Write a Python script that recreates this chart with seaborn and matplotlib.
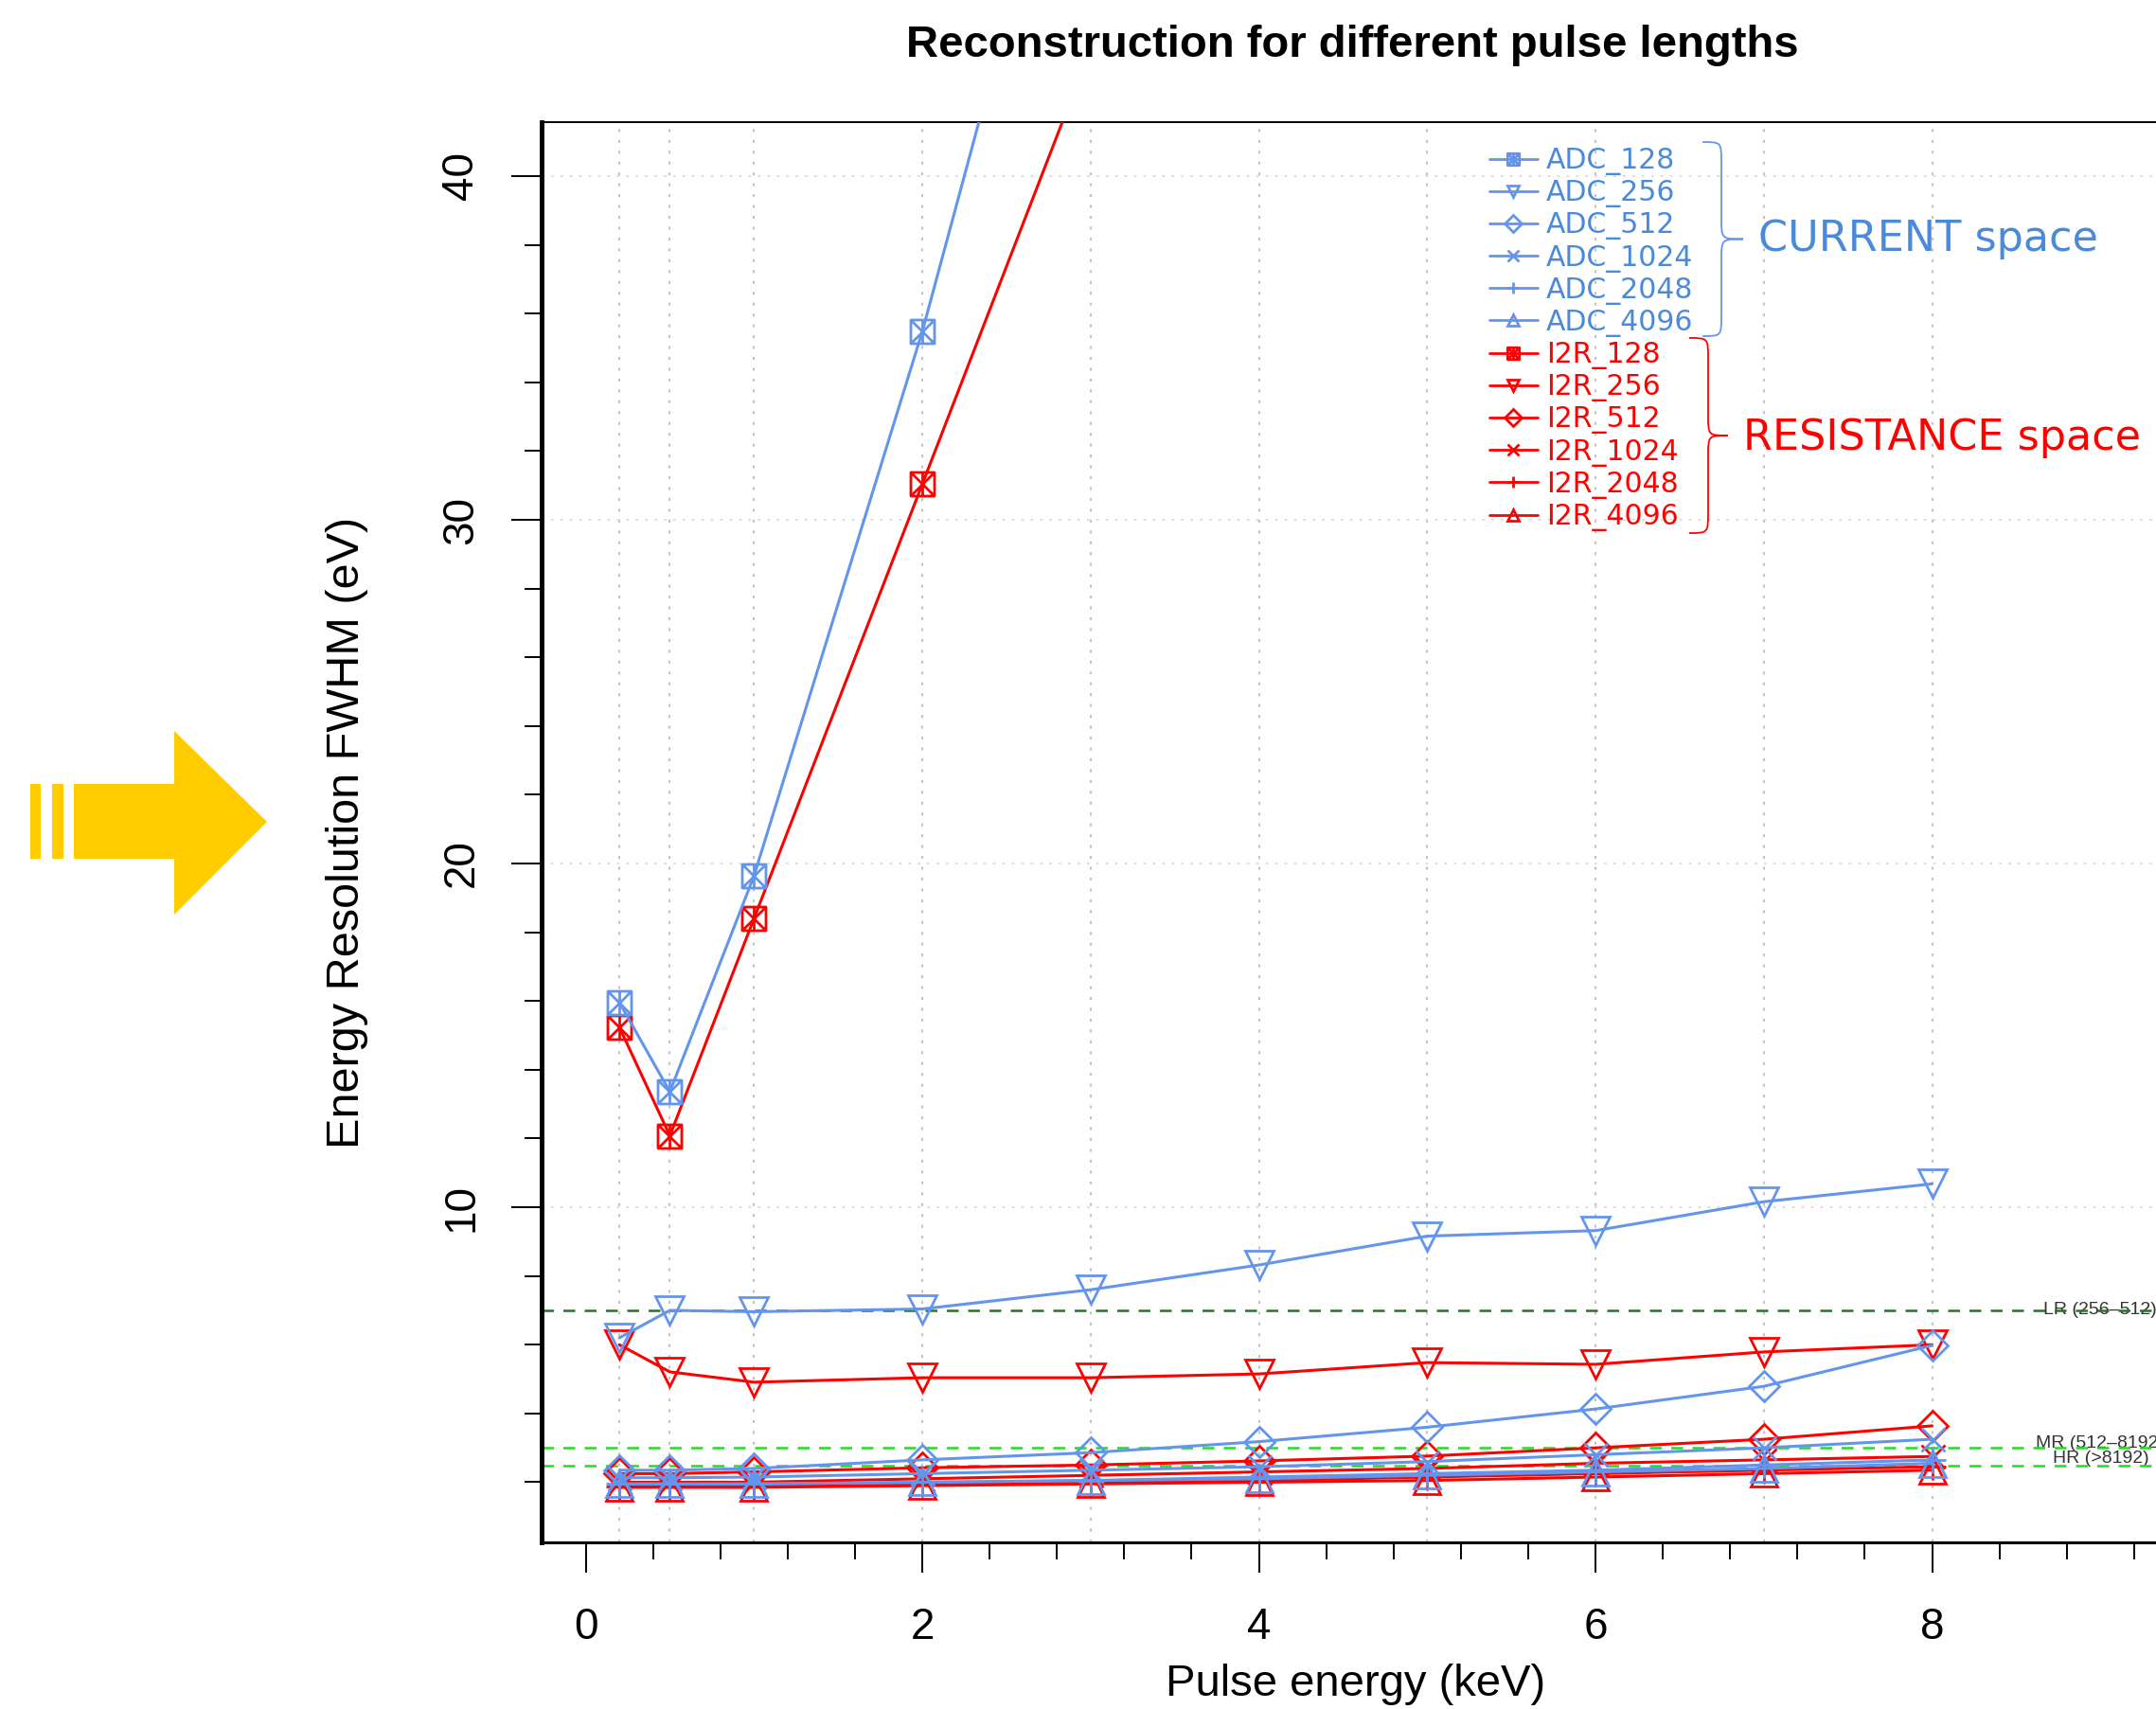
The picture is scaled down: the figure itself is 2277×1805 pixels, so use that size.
import matplotlib
matplotlib.use("Agg")
import matplotlib.pyplot as plt
import seaborn as sns
from matplotlib.lines import Line2D
from matplotlib.path import Path
from matplotlib.patches import PathPatch, Polygon
from matplotlib.ticker import MultipleLocator

# ---- data ------------------------------------------------------------------
energy = [0.2, 0.5, 1, 2, 3, 4, 5, 6, 7, 8]
energy_128 = [0.2, 0.5, 1, 2, 3]          # 128-sample series leave the frame after 2 keV

adc_128 = [15.96, 13.36, 19.64, 35.48, 53.6]
i2r_128 = [15.24, 12.08, 18.40, 31.04, 43.7]
adc_256 = [6.2, 7.0, 6.96, 7.04, 7.6, 8.32, 9.16, 9.32, 10.16, 10.68]
i2r_256 = [6.0, 5.21, 4.91, 5.04, 5.04, 5.15, 5.48, 5.43, 5.79, 6.0]
adc_512 = [2.35, 2.35, 2.4, 2.65, 2.86, 3.18, 3.6, 4.13, 4.79, 5.98]
i2r_512 = [2.25, 2.25, 2.3, 2.42, 2.5, 2.62, 2.76, 3.0, 3.25, 3.64]
adc_1024 = [2.13, 2.13, 2.15, 2.25, 2.35, 2.45, 2.6, 2.8, 3.0, 3.25]
i2r_1024 = [2.0, 2.0, 2.0, 2.1, 2.2, 2.3, 2.4, 2.55, 2.65, 2.75]
adc_2048 = [1.95, 1.95, 1.95, 2.0, 2.05, 2.15, 2.25, 2.35, 2.5, 2.65]
i2r_2048 = [1.88, 1.88, 1.88, 1.95, 2.0, 2.05, 2.15, 2.25, 2.35, 2.45]
adc_4096 = [1.95, 1.95, 1.95, 2.0, 2.05, 2.1, 2.2, 2.3, 2.4, 2.55]
i2r_4096 = [1.85, 1.85, 1.85, 1.9, 1.95, 2.0, 2.05, 2.15, 2.25, 2.35]

adc_labels = ["ADC_128", "ADC_256", "ADC_512", "ADC_1024", "ADC_2048", "ADC_4096"]
i2r_labels = ["I2R_128", "I2R_256", "I2R_512", "I2R_1024", "I2R_2048", "I2R_4096"]

threshold_y = [7.0, 3.0, 2.48]
threshold_label_y = [7.0, 3.12, 2.7]
threshold_labels = ["LR (256–512)", "MR (512–8192)", "HR (>8192)"]
threshold_colors = ["#1f7a1f", "#22dd22", "#22dd22"]

BLUE = "#6495ed"
BLUE_TXT = "#4a8ad8"
RED = "#ff0000"

# square with an X and a vertical bar, like the R symbol overlay
SQX = Path([(-1, -1), (1, -1), (1, 1), (-1, 1), (-1, -1),
            (-1, -1), (1, 1), (-1, 1), (1, -1), (0, -1), (0, 1)],
           [Path.MOVETO, Path.LINETO, Path.LINETO, Path.LINETO, Path.CLOSEPOLY,
            Path.MOVETO, Path.LINETO, Path.MOVETO, Path.LINETO,
            Path.MOVETO, Path.LINETO])
markers = [SQX, "v", "D", "x", "+", "^"]
msizes = [18, 21, 16, 18, 20, 20]

W, H = 2277, 1805


def fx(px):
    return px / W


def fy(py):
    return 1 - py / H


def brace(fig, x_base, x_mid, x_tip, y_top, y_bot, color):
    yc = (y_top + y_bot) / 2
    r = 22
    pts = [(x_base, y_top),
           (x_mid, y_top), (x_mid, y_top), (x_mid, y_top + r),
           (x_mid, yc - r),
           (x_mid, yc), (x_mid, yc), (x_tip, yc),
           (x_mid, yc), (x_mid, yc), (x_mid, yc + r),
           (x_mid, y_bot - r),
           (x_mid, y_bot), (x_mid, y_bot), (x_base, y_bot)]
    codes = [Path.MOVETO,
             Path.CURVE4, Path.CURVE4, Path.CURVE4,
             Path.LINETO,
             Path.CURVE4, Path.CURVE4, Path.CURVE4,
             Path.CURVE4, Path.CURVE4, Path.CURVE4,
             Path.LINETO,
             Path.CURVE4, Path.CURVE4, Path.CURVE4]
    path = Path([(fx(a), fy(b)) for a, b in pts], codes)
    fig.patches.append(PathPatch(path, transform=fig.transFigure, fill=False,
                                 edgecolor=color, lw=1.3))


sns.set_style("white")
plt.rcParams["font.family"] = ["Liberation Sans", "DejaVu Sans"]
plt.rcParams["text.color"] = "black"
plt.rcParams["axes.labelcolor"] = "black"
plt.rcParams["xtick.color"] = "black"
plt.rcParams["ytick.color"] = "black"

fig = plt.figure(figsize=(W / 100, H / 100), dpi=100)
ax = fig.add_axes([fx(572), fy(1629), 1 - fx(572), (1629 - 129) / H])
ax.set_xlim(-0.262, 9.33)
ax.set_ylim(0.25, 41.57)

# dotted guides at the measured energies and every 10 eV
for e in energy:
    ax.axvline(e, color="#c4c4c4", ls=(0, (1.5, 4)), lw=1.5, zorder=0)
for yv in [10, 20, 30, 40]:
    ax.axhline(yv, color="#dadada", ls=(0, (1.5, 4)), lw=1.3, zorder=0)

# resolution thresholds
for yv, ly, lab, col in zip(threshold_y, threshold_label_y, threshold_labels,
                            threshold_colors):
    ax.text(9.0, ly, lab, ha="center", va="center", fontsize=14,
            color="#333333", zorder=1)
    ax.axhline(yv, color=col, ls=(0, (5, 4)), lw=1.8, zorder=2)

i2r_series = [i2r_128, i2r_256, i2r_512, i2r_1024, i2r_2048, i2r_4096]
adc_series = [adc_128, adc_256, adc_512, adc_1024, adc_2048, adc_4096]

for series, color in [(i2r_series, RED), (adc_series, BLUE)]:
    for vals, mk, ms in zip(series, markers, msizes):
        xs = energy_128 if len(vals) == len(energy_128) else energy
        sns.lineplot(x=xs, y=vals, ax=ax, color=color, lw=2.2, marker=mk,
                     ms=ms, mfc="none", mec=color, mew=2, legend=False,
                     zorder=3)

# axes styling (R-like open box)
ax.spines["right"].set_visible(False)
ax.spines["left"].set_linewidth(3.5)
ax.spines["bottom"].set_linewidth(2.2)
ax.spines["top"].set_linewidth(1.4)
for s in ax.spines.values():
    s.set_color("black")

ax.xaxis.set_major_locator(MultipleLocator(2))
ax.xaxis.set_minor_locator(MultipleLocator(0.4))
ax.yaxis.set_major_locator(MultipleLocator(10))
ax.yaxis.set_minor_locator(MultipleLocator(2))
ax.tick_params(which="major", direction="out", length=23, width=1.4,
               labelsize=33, color="black", labelcolor="black")
ax.tick_params(which="minor", direction="out", length=13, width=1.4,
               color="black")
ax.tick_params(axis="x", which="major", pad=26)
ax.tick_params(axis="y", which="major", pad=22, labelrotation=90)
ax.tick_params(top=False, right=False, which="both")
ax.tick_params(bottom=True, left=True, which="both")
plt.setp(ax.get_yticklabels(), va="center")

ax.set_xlabel("Pulse energy (keV)", fontsize=34, color="black")
ax.xaxis.label.set_va("center")
ax.xaxis.set_label_coords(0.504, -0.1)
ax.set_ylabel("Energy Resolution FWHM (eV)", fontsize=35, color="black")
ax.yaxis.label.set_va("center")
ax.yaxis.set_label_coords(-0.1208, 0.5)

fig.text(fx(1428), fy(48), "Reconstruction for different pulse lengths",
         ha="center", va="center", fontsize=34, fontweight="bold",
         color="black")

# legend
handles = []
labels = []
for lab, mk in zip(adc_labels, markers):
    handles.append(Line2D([], [], color=BLUE, lw=2, marker=mk, ms=9,
                          mfc="none", mec=BLUE, mew=2))
    labels.append(lab)
for lab, mk in zip(i2r_labels, markers):
    handles.append(Line2D([], [], color=RED, lw=2, marker=mk, ms=9,
                          mfc="none", mec=RED, mew=2))
    labels.append(lab)
leg = ax.legend(handles, labels, loc="upper left",
                bbox_to_anchor=(fx(1573), fy(155)),
                bbox_transform=fig.transFigure, frameon=False, borderpad=0,
                borderaxespad=0, handlelength=1.7, handletextpad=0.3,
                labelspacing=0.14, prop={"family": "DejaVu Sans", "size": 21.5})
for i, t in enumerate(leg.get_texts()):
    t.set_color(BLUE_TXT if i < 6 else RED)

brace(fig, 1798, 1818, 1841, 150, 355, BLUE)
brace(fig, 1784, 1804, 1825, 357, 563, RED)
fig.text(fx(1857), fy(253), "CURRENT space", ha="left", va="center",
         fontsize=32, color=BLUE_TXT, family="DejaVu Sans")
fig.text(fx(1841), fy(462), "RESISTANCE space", ha="left", va="center",
         fontsize=32, color=RED, family="DejaVu Sans")

# yellow arrow on the left margin
YEL = "#ffcc00"
arrow = [(78, 828), (184, 828), (184, 772), (282, 868), (184, 966),
         (184, 907), (78, 907)]
fig.patches.append(Polygon([(fx(a), fy(b)) for a, b in arrow], closed=True,
                           transform=fig.transFigure, color=YEL, lw=0))
for x0, x1 in [(32, 43), (55, 67)]:
    bar = [(x0, 828), (x1, 828), (x1, 907), (x0, 907)]
    fig.patches.append(Polygon([(fx(a), fy(b)) for a, b in bar], closed=True,
                               transform=fig.transFigure, color=YEL, lw=0))

fig.savefig("out.png", dpi=100)
